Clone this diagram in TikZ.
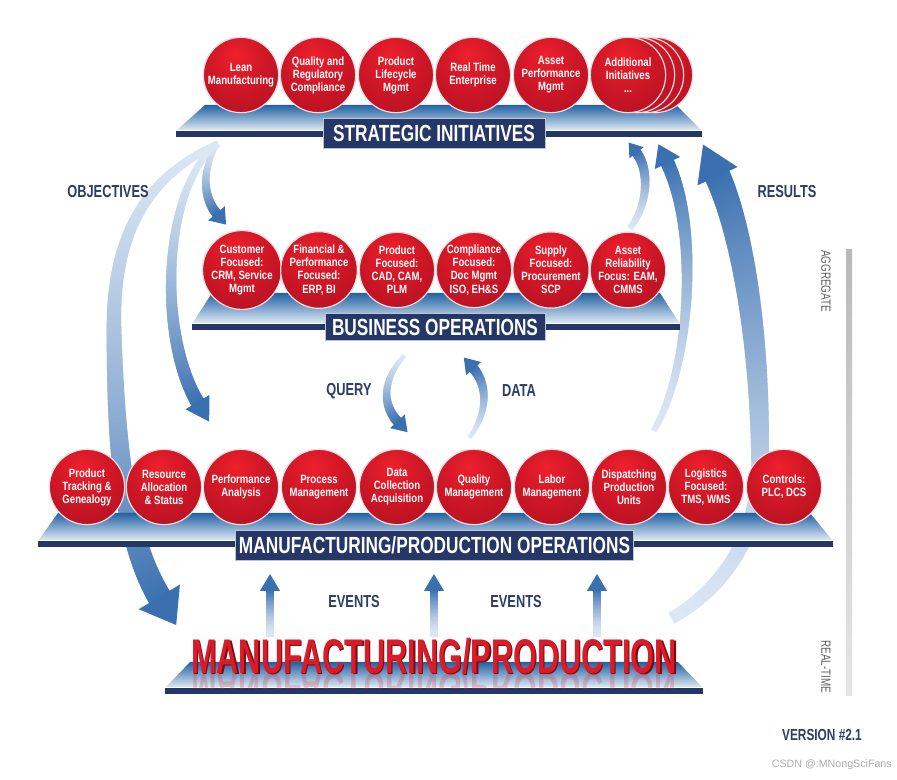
\documentclass[tikz,border=0pt]{standalone}
\usepackage{fontspec}
\setmainfont{Liberation Sans}
\newfontfamily\fcirc[FakeStretch=0.8]{Liberation Sans}
\newfontfamily\flab[FakeStretch=0.74]{Liberation Sans}
\newfontfamily\ftitle[FakeStretch=0.63]{Liberation Sans}
\usetikzlibrary{decorations.markings,shadings}

\definecolor{navy}{RGB}{37,55,102}
\definecolor{labnavy}{RGB}{45,60,105}
\definecolor{arrowdark}{RGB}{58,112,176}
\definecolor{arrowlight}{RGB}{220,231,244}
\definecolor{platback}{RGB}{34,98,162}
\definecolor{platmid}{RGB}{130,172,214}
\definecolor{platfront}{RGB}{228,237,247}
\definecolor{ballhi}{RGB}{238,32,44}
\definecolor{ballmid}{RGB}{206,22,38}
\definecolor{balllo}{RGB}{150,14,32}
\definecolor{rim}{RGB}{246,220,222}
\definecolor{titlered}{RGB}{218,28,40}
\definecolor{titledark}{RGB}{120,10,20}

\pgfdeclareradialshading{sphere}{\pgfpoint{-4bp}{14bp}}{color(0bp)=(ballhi); color(20bp)=(ballmid); color(45bp)=(balllo!70!ballmid); color(66bp)=(balllo)}

\newcommand{\platf}[6]{%
  \shade[top color=platback, middle color=platmid, bottom color=platfront] (#3,#1) -- (#4,#1) -- (#6,#2) -- (#5,#2) -- cycle;
  \draw[white, line width=0.8pt] (#5,#2) -- (#6,#2);
  \fill[navy] (#5,#2) rectangle (#6,#2+6);
}

\tikzset{
  gshaft/.style n args={4}{
    decoration={markings,
      mark=between positions 0 and 1 step 0.6pt with {
        \pgfmathsetmacro\gt{min(1,max(0,\pgfkeysvalueof{/pgf/decoration/mark info/distance from start}/\pgfdecoratedpathlength))}
        \pgfmathsetmacro\gw{(#1+(#2-#1)*\gt)*0.75}
        \pgfmathsetmacro\gc{#3+(#4-#3)*\gt*sqrt(\gt)}
        \fill[arrowdark!\gc!arrowlight] (-0.5pt,-\gw pt) rectangle (0.5pt,\gw pt);
      }
    },
    decorate
  },
  ghead/.style n args={3}{
    decoration={markings,
      mark=at position 0.999 with {
        \fill[arrowdark!#3!arrowlight] (-0.6pt,-#1*0.75pt) -- (#2*0.75pt,0pt) -- (-0.6pt,#1*0.75pt) -- cycle;
      }
    },
    decorate
  },
  ball/.style={circle, minimum size=56.5pt, inner sep=0pt, shade, shading=sphere, draw=rim, line width=0.9pt,
    text=white, align=center, font=\fcirc\bfseries\fontsize{9}{9.8}\selectfont},
  labbox/.style={fill=navy, draw=white!70!navy, line width=0.6pt, text=white, inner sep=0pt,
    font=\flab\bfseries\fontsize{17.5}{18}\selectfont},
  sidelab/.style={text=labnavy, font=\flab\bfseries\fontsize{13}{14}\selectfont},
  sidetext/.style={text=gray!75!black, font=\flab\fontsize{10}{10}\selectfont},
  titlefont/.style={font=\ftitle\bfseries\fontsize{36.5}{36.5}\selectfont}
}
% #1 start half-width, #2 end half-width, #3 head half-width, #4 head length, #5 path
\newcommand{\garr}[5]{%
  \path[gshaft={#1}{#2}{0}{100}] #5;
  \path[ghead={#3}{#4}{100}] #5;
}

\begin{document}
\begin{tikzpicture}[x=0.75pt,y=-0.75pt]
\useasboundingbox[fill=white] (0,0) rectangle (897,780);

% ---------- arrows (behind everything) ----------
% objectives
\garr{2.5}{5}{11}{14}{(216,146) .. controls (200,175) and (205,200) .. (217,214)}
\garr{3}{7}{14}{22}{(213,147) .. controls (160,200) and (160,340) .. (198,403)}
\garr{3.5}{12}{24}{32}{(218,144) .. controls (150,175) and (112,230) .. (114,330) .. controls (116,450) and (125,540) .. (160,598)}
% results
\garr{3}{5}{9}{12}{(630,228) .. controls (648,205) and (650,170) .. (636,152)}
\garr{3}{7}{14}{20}{(654,430) .. controls (690,370) and (700,230) .. (667,162)}
\garr{6}{13}{22}{34}{(672,618) .. controls (720,590) and (760,540) .. (760,460) .. controls (760,330) and (740,225) .. (717,175)}
% query / data
\garr{2}{5}{10}{14}{(404,356) .. controls (382,380) and (382,405) .. (398,422)}
\garr{2}{5}{10}{14}{(470,437) .. controls (488,412) and (488,385) .. (473,368)}
% events
\foreach \ex in {270,434,597} {\garr{4}{4}{10}{16}{(\ex,636) -- (\ex,590)}}

% ---------- platforms ----------
\platf{105}{131}{205}{676}{176}{702}
\platf{293}{324}{212}{660}{192}{680}
\platf{513}{541}{58}{810}{38}{833}
\platf{662}{688}{190}{678}{165}{703}

% ---------- strategic initiatives ----------
\foreach \dx in {27,18,9} {\node[ball] (sx\dx) at (628+\dx,75) {};}
\node[ball] (s1) at (241,75) {Lean\\Manufacturing};
\node[ball] (s2) at (318,75) {Quality and\\Regulatory\\Compliance};
\node[ball] (s3) at (396,75) {Product\\Lifecycle\\Mgmt};
\node[ball] (s4) at (473,75) {Real Time\\Enterprise};
\node[ball] (s5) at (551,75) {Asset\\Performance\\Mgmt};
\node[ball] (s6) at (628,75) {Additional\\Initiatives\\...};
\node[labbox, minimum width=166.5pt, minimum height=22.5pt] (lstrat) at (434,133) {STRATEGIC INITIATIVES};

% ---------- business operations ----------
\node[ball] (b1) at (242,270) {Customer\\Focused:\\CRM, Service\\Mgmt};
\node[ball] (b2) at (319,270) {Financial \&\\Performance\\Focused:\\ERP, BI};
\node[ball] (b3) at (397,270) {Product\\Focused:\\CAD, CAM,\\PLM};
\node[ball] (b4) at (474,270) {Compliance\\Focused:\\Doc Mgmt\\ISO, EH\&S};
\node[ball] (b5) at (551,270) {Supply\\Focused:\\Procurement\\SCP};
\node[ball] (b6) at (628,270) {Asset\\Reliability\\Focus: EAM,\\CMMS};
\node[labbox, minimum width=165pt, minimum height=20.5pt] (lbus) at (435,327) {BUSINESS OPERATIONS};

% ---------- manufacturing / production operations ----------
\node[ball] (m1) at (87,487) {Product\\Tracking \&\\Genealogy};
\node[ball] (m2) at (164,487) {Resource\\Allocation\\\& Status};
\node[ball] (m3) at (241,487) {Performance\\Analysis};
\node[ball] (m4) at (319,487) {Process\\Management};
\node[ball] (m5) at (397,487) {Data\\Collection\\Acquisition};
\node[ball] (m6) at (474,487) {Quality\\Management};
\node[ball] (m7) at (552,487) {Labor\\Management};
\node[ball] (m8) at (629,487) {Dispatching\\Production\\Units};
\node[ball] (m9) at (706,487) {Logistics\\Focused:\\TMS, WMS};
\node[ball] (m10) at (784,487) {Controls:\\PLC, DCS};
\node[labbox, minimum width=298pt, minimum height=22.5pt] (lmfg) at (434.5,545) {MANUFACTURING/PRODUCTION OPERATIONS};

% ---------- manufacturing / production ----------
\begin{scope}
  \clip (190,662) -- (678,662) -- (703,688) -- (165,688) -- cycle;
  \node[anchor=base, titlefont, text=titlered, opacity=0.22] (trefl) at (434,673) {\scalebox{1}[-1]{MANUFACTURING/PRODUCTION}};
\end{scope}
\node[anchor=base, titlefont, text=titledark] (tshadow) at (435.5,675) {MANUFACTURING/PRODUCTION};
\node[anchor=base, titlefont, text=titlered] (title) at (434,673) {MANUFACTURING/PRODUCTION};

% ---------- labels ----------
\node[sidelab] (obj) at (108,192) {OBJECTIVES};
\node[sidelab] (res) at (787,192) {RESULTS};
\node[sidelab] (qry) at (349,391) {QUERY};
\node[sidelab] (dat) at (519,391) {DATA};
\node[sidelab] (ev1) at (354,602) {EVENTS};
\node[sidelab] (ev2) at (516,602) {EVENTS};

% ---------- scale bar ----------
\shade[top color=gray!55, bottom color=gray!20] (846,250) rectangle (852,695);
\node[sidetext, rotate=-90] (agg) at (826,281) {AGGREGATE};
\node[sidetext, rotate=-90] (rt) at (826,667) {REAL-TIME};

\node[sidelab, font=\flab\bfseries\fontsize{12}{12}\selectfont] (ver) at (822,735) {VERSION \#2.1};
\node[anchor=east, inner sep=0pt, text=gray!65, font=\fontsize{8}{9}\selectfont] (wm) at (892,765) {CSDN @:MNongSciFans};
\end{tikzpicture}
\end{document}
